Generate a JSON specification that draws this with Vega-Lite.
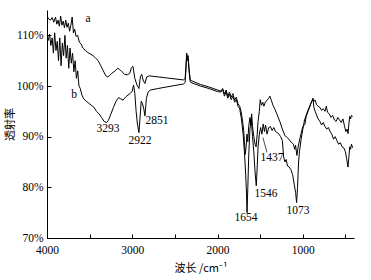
{
  "$schema": "https://vega.github.io/schema/vega-lite/v6.json",
  "autosize": "none",
  "width": 307,
  "height": 228,
  "padding": {"left": 47, "top": 10, "right": 17, "bottom": 42},
  "background": "white",
  "config": {
    "view": {"stroke": null},
    "axis": {
      "domainColor": "black", "tickColor": "black", "labelColor": "black", "titleColor": "black",
      "labelFont": "Liberation Serif", "labelFontSize": 11.5,
      "titleFont": "Noto Sans CJK SC", "titleFontSize": 11, "titleFontWeight": "normal",
      "grid": false, "tickSize": -4, "domainWidth": 1, "tickWidth": 1
    }
  },
  "datasets": {
    "spec": [
      {"s":"a","x":4000,"y":113.8},{"s":"a","x":3980,"y":113.2},{"s":"a","x":3960,"y":113.0},{"s":"a","x":3940,"y":113.5},{"s":"a","x":3920,"y":112.6},{"s":"a","x":3900,"y":113.6},{"s":"a","x":3885,"y":112.2},{"s":"a","x":3870,"y":113.0},{"s":"a","x":3855,"y":111.8},{"s":"a","x":3840,"y":113.8},{"s":"a","x":3825,"y":112.0},{"s":"a","x":3810,"y":112.8},{"s":"a","x":3795,"y":111.5},{"s":"a","x":3780,"y":113.0},{"s":"a","x":3765,"y":111.6},{"s":"a","x":3750,"y":112.4},{"s":"a","x":3735,"y":110.8},{"s":"a","x":3720,"y":112.0},{"s":"a","x":3705,"y":113.6},{"s":"a","x":3690,"y":110.5},{"s":"a","x":3675,"y":111.2},{"s":"a","x":3660,"y":109.8},{"s":"a","x":3640,"y":110.0},{"s":"a","x":3620,"y":108.6},{"s":"a","x":3600,"y":108.3},{"s":"a","x":3580,"y":107.5},{"s":"a","x":3550,"y":107.0},{"s":"a","x":3520,"y":106.6},{"s":"a","x":3490,"y":106.3},{"s":"a","x":3460,"y":106.0},{"s":"a","x":3430,"y":105.5},{"s":"a","x":3400,"y":105.0},{"s":"a","x":3370,"y":104.0},{"s":"a","x":3340,"y":103.0},{"s":"a","x":3310,"y":102.0},{"s":"a","x":3290,"y":101.8},{"s":"a","x":3270,"y":102.0},{"s":"a","x":3240,"y":102.5},{"s":"a","x":3200,"y":103.0},{"s":"a","x":3170,"y":103.5},{"s":"a","x":3150,"y":103.3},{"s":"a","x":3120,"y":102.8},{"s":"a","x":3090,"y":102.3},{"s":"a","x":3060,"y":102.2},{"s":"a","x":3030,"y":102.5},{"s":"a","x":3010,"y":103.6},{"s":"a","x":2992,"y":103.9},{"s":"a","x":2970,"y":101.5},{"s":"a","x":2945,"y":100.2},{"s":"a","x":2922,"y":99.5},{"s":"a","x":2905,"y":101.8},{"s":"a","x":2890,"y":102.3},{"s":"a","x":2870,"y":101.0},{"s":"a","x":2851,"y":100.5},{"s":"a","x":2830,"y":101.8},{"s":"a","x":2800,"y":102.0},{"s":"a","x":2700,"y":101.8},{"s":"a","x":2600,"y":101.6},{"s":"a","x":2500,"y":101.4},{"s":"a","x":2400,"y":101.2},{"s":"a","x":2380,"y":101.5},{"s":"a","x":2370,"y":104.0},{"s":"a","x":2362,"y":106.5},{"s":"a","x":2355,"y":105.5},{"s":"a","x":2345,"y":106.0},{"s":"a","x":2335,"y":103.5},{"s":"a","x":2320,"y":101.2},{"s":"a","x":2300,"y":101.0},{"s":"a","x":2200,"y":100.3},{"s":"a","x":2100,"y":99.8},{"s":"a","x":2000,"y":99.2},{"s":"a","x":1960,"y":99.0},{"s":"a","x":1940,"y":99.5},{"s":"a","x":1920,"y":98.4},{"s":"a","x":1900,"y":99.2},{"s":"a","x":1880,"y":98.0},{"s":"a","x":1860,"y":98.8},{"s":"a","x":1840,"y":97.8},{"s":"a","x":1820,"y":98.5},{"s":"a","x":1800,"y":97.2},{"s":"a","x":1780,"y":97.8},{"s":"a","x":1760,"y":96.5},{"s":"a","x":1740,"y":96.0},{"s":"a","x":1725,"y":95.0},{"s":"a","x":1710,"y":93.5},{"s":"a","x":1695,"y":91.5},{"s":"a","x":1685,"y":89.0},{"s":"a","x":1675,"y":86.5},{"s":"a","x":1665,"y":88.0},{"s":"a","x":1655,"y":90.5},{"s":"a","x":1645,"y":89.0},{"s":"a","x":1635,"y":92.0},{"s":"a","x":1620,"y":93.8},{"s":"a","x":1610,"y":92.5},{"s":"a","x":1600,"y":94.5},{"s":"a","x":1590,"y":92.0},{"s":"a","x":1575,"y":90.0},{"s":"a","x":1560,"y":88.5},{"s":"a","x":1548,"y":88.0},{"s":"a","x":1535,"y":90.5},{"s":"a","x":1525,"y":93.0},{"s":"a","x":1510,"y":95.0},{"s":"a","x":1500,"y":97.3},{"s":"a","x":1485,"y":96.2},{"s":"a","x":1470,"y":96.8},{"s":"a","x":1457,"y":96.0},{"s":"a","x":1440,"y":96.8},{"s":"a","x":1420,"y":97.2},{"s":"a","x":1400,"y":97.6},{"s":"a","x":1386,"y":98.0},{"s":"a","x":1370,"y":97.2},{"s":"a","x":1350,"y":96.2},{"s":"a","x":1330,"y":95.5},{"s":"a","x":1300,"y":94.3},{"s":"a","x":1270,"y":93.0},{"s":"a","x":1240,"y":91.5},{"s":"a","x":1210,"y":90.2},{"s":"a","x":1180,"y":89.8},{"s":"a","x":1150,"y":89.2},{"s":"a","x":1130,"y":88.8},{"s":"a","x":1110,"y":88.5},{"s":"a","x":1095,"y":87.5},{"s":"a","x":1085,"y":88.3},{"s":"a","x":1070,"y":86.3},{"s":"a","x":1055,"y":88.0},{"s":"a","x":1035,"y":89.6},{"s":"a","x":1000,"y":92.0},{"s":"a","x":976,"y":92.4},{"s":"a","x":960,"y":94.0},{"s":"a","x":941,"y":94.9},{"s":"a","x":920,"y":95.8},{"s":"a","x":900,"y":96.8},{"s":"a","x":882,"y":97.6},{"s":"a","x":870,"y":97.0},{"s":"a","x":855,"y":97.2},{"s":"a","x":840,"y":96.3},{"s":"a","x":820,"y":96.0},{"s":"a","x":800,"y":95.8},{"s":"a","x":780,"y":95.2},{"s":"a","x":760,"y":95.5},{"s":"a","x":740,"y":95.0},{"s":"a","x":725,"y":96.0},{"s":"a","x":710,"y":94.8},{"s":"a","x":690,"y":94.5},{"s":"a","x":670,"y":93.8},{"s":"a","x":650,"y":94.2},{"s":"a","x":630,"y":93.3},{"s":"a","x":610,"y":93.0},{"s":"a","x":590,"y":93.8},{"s":"a","x":570,"y":93.3},{"s":"a","x":550,"y":92.8},{"s":"a","x":530,"y":93.5},{"s":"a","x":510,"y":92.0},{"s":"a","x":495,"y":91.0},{"s":"a","x":480,"y":91.5},{"s":"a","x":470,"y":90.6},{"s":"a","x":460,"y":92.5},{"s":"a","x":450,"y":94.0},{"s":"a","x":440,"y":93.5},{"s":"a","x":430,"y":94.2},{"s":"a","x":415,"y":94.0},
      {"s":"b","x":4000,"y":109.8},{"s":"b","x":3985,"y":109.0},{"s":"b","x":3970,"y":110.2},{"s":"b","x":3955,"y":108.0},{"s":"b","x":3940,"y":109.5},{"s":"b","x":3925,"y":106.5},{"s":"b","x":3910,"y":110.5},{"s":"b","x":3895,"y":107.0},{"s":"b","x":3880,"y":108.8},{"s":"b","x":3865,"y":105.0},{"s":"b","x":3850,"y":109.5},{"s":"b","x":3835,"y":104.0},{"s":"b","x":3820,"y":108.5},{"s":"b","x":3805,"y":106.0},{"s":"b","x":3790,"y":110.0},{"s":"b","x":3775,"y":105.5},{"s":"b","x":3760,"y":108.0},{"s":"b","x":3745,"y":103.5},{"s":"b","x":3730,"y":107.5},{"s":"b","x":3715,"y":104.5},{"s":"b","x":3700,"y":106.5},{"s":"b","x":3685,"y":102.8},{"s":"b","x":3670,"y":105.0},{"s":"b","x":3655,"y":101.5},{"s":"b","x":3640,"y":103.0},{"s":"b","x":3625,"y":100.0},{"s":"b","x":3610,"y":99.5},{"s":"b","x":3590,"y":98.2},{"s":"b","x":3570,"y":97.5},{"s":"b","x":3540,"y":97.0},{"s":"b","x":3510,"y":96.6},{"s":"b","x":3480,"y":96.2},{"s":"b","x":3450,"y":95.8},{"s":"b","x":3420,"y":95.0},{"s":"b","x":3390,"y":94.5},{"s":"b","x":3360,"y":93.8},{"s":"b","x":3330,"y":93.0},{"s":"b","x":3300,"y":92.8},{"s":"b","x":3280,"y":93.2},{"s":"b","x":3250,"y":94.5},{"s":"b","x":3220,"y":95.8},{"s":"b","x":3190,"y":97.0},{"s":"b","x":3160,"y":97.7},{"s":"b","x":3140,"y":97.5},{"s":"b","x":3110,"y":97.2},{"s":"b","x":3080,"y":97.8},{"s":"b","x":3050,"y":98.2},{"s":"b","x":3020,"y":98.6},{"s":"b","x":3000,"y":99.0},{"s":"b","x":2985,"y":100.2},{"s":"b","x":2970,"y":98.5},{"s":"b","x":2955,"y":95.0},{"s":"b","x":2940,"y":92.5},{"s":"b","x":2922,"y":90.8},{"s":"b","x":2910,"y":93.5},{"s":"b","x":2895,"y":97.0},{"s":"b","x":2880,"y":96.5},{"s":"b","x":2865,"y":95.5},{"s":"b","x":2851,"y":94.1},{"s":"b","x":2835,"y":97.5},{"s":"b","x":2815,"y":98.8},{"s":"b","x":2790,"y":99.2},{"s":"b","x":2700,"y":99.5},{"s":"b","x":2600,"y":99.8},{"s":"b","x":2500,"y":100.1},{"s":"b","x":2400,"y":100.4},{"s":"b","x":2380,"y":100.7},{"s":"b","x":2370,"y":103.5},{"s":"b","x":2362,"y":106.2},{"s":"b","x":2355,"y":105.0},{"s":"b","x":2345,"y":105.5},{"s":"b","x":2335,"y":103.0},{"s":"b","x":2320,"y":100.8},{"s":"b","x":2300,"y":100.6},{"s":"b","x":2200,"y":100.0},{"s":"b","x":2100,"y":99.5},{"s":"b","x":2000,"y":98.9},{"s":"b","x":1960,"y":98.8},{"s":"b","x":1940,"y":99.3},{"s":"b","x":1920,"y":98.0},{"s":"b","x":1900,"y":98.8},{"s":"b","x":1880,"y":97.6},{"s":"b","x":1860,"y":98.4},{"s":"b","x":1840,"y":97.3},{"s":"b","x":1820,"y":98.0},{"s":"b","x":1800,"y":96.8},{"s":"b","x":1780,"y":97.3},{"s":"b","x":1760,"y":96.0},{"s":"b","x":1740,"y":95.5},{"s":"b","x":1720,"y":93.5},{"s":"b","x":1700,"y":90.5},{"s":"b","x":1685,"y":87.0},{"s":"b","x":1670,"y":82.5},{"s":"b","x":1660,"y":78.5},{"s":"b","x":1654,"y":75.0},{"s":"b","x":1645,"y":80.0},{"s":"b","x":1635,"y":86.0},{"s":"b","x":1620,"y":91.5},{"s":"b","x":1605,"y":93.5},{"s":"b","x":1590,"y":90.0},{"s":"b","x":1575,"y":87.0},{"s":"b","x":1560,"y":83.0},{"s":"b","x":1546,"y":80.3},{"s":"b","x":1535,"y":84.0},{"s":"b","x":1525,"y":88.0},{"s":"b","x":1510,"y":90.5},{"s":"b","x":1495,"y":91.8},{"s":"b","x":1480,"y":90.5},{"s":"b","x":1465,"y":92.5},{"s":"b","x":1450,"y":91.0},{"s":"b","x":1437,"y":92.3},{"s":"b","x":1420,"y":90.5},{"s":"b","x":1400,"y":91.8},{"s":"b","x":1380,"y":92.0},{"s":"b","x":1360,"y":91.2},{"s":"b","x":1340,"y":91.8},{"s":"b","x":1320,"y":91.0},{"s":"b","x":1300,"y":90.8},{"s":"b","x":1280,"y":90.5},{"s":"b","x":1260,"y":90.0},{"s":"b","x":1240,"y":89.2},{"s":"b","x":1225,"y":86.0},{"s":"b","x":1210,"y":85.0},{"s":"b","x":1195,"y":85.5},{"s":"b","x":1180,"y":84.2},{"s":"b","x":1160,"y":84.0},{"s":"b","x":1140,"y":83.5},{"s":"b","x":1120,"y":82.5},{"s":"b","x":1100,"y":80.5},{"s":"b","x":1085,"y":79.0},{"s":"b","x":1073,"y":77.0},{"s":"b","x":1062,"y":80.0},{"s":"b","x":1050,"y":85.0},{"s":"b","x":1040,"y":87.0},{"s":"b","x":1020,"y":89.5},{"s":"b","x":1000,"y":91.5},{"s":"b","x":980,"y":93.3},{"s":"b","x":960,"y":94.3},{"s":"b","x":940,"y":95.2},{"s":"b","x":920,"y":96.0},{"s":"b","x":900,"y":96.8},{"s":"b","x":880,"y":97.3},{"s":"b","x":870,"y":95.8},{"s":"b","x":855,"y":95.0},{"s":"b","x":840,"y":94.3},{"s":"b","x":820,"y":93.5},{"s":"b","x":800,"y":93.0},{"s":"b","x":780,"y":92.3},{"s":"b","x":760,"y":92.8},{"s":"b","x":740,"y":92.0},{"s":"b","x":720,"y":91.5},{"s":"b","x":700,"y":91.8},{"s":"b","x":680,"y":91.0},{"s":"b","x":660,"y":90.5},{"s":"b","x":640,"y":89.5},{"s":"b","x":620,"y":90.0},{"s":"b","x":600,"y":89.2},{"s":"b","x":580,"y":88.5},{"s":"b","x":560,"y":88.8},{"s":"b","x":540,"y":88.0},{"s":"b","x":520,"y":87.8},{"s":"b","x":500,"y":87.0},{"s":"b","x":485,"y":85.5},{"s":"b","x":470,"y":84.0},{"s":"b","x":460,"y":86.0},{"s":"b","x":450,"y":88.0},{"s":"b","x":440,"y":87.5},{"s":"b","x":430,"y":88.5},{"s":"b","x":415,"y":87.8}
    ],
    "labels": [
      {"x":3520,"y":113.3,"t":"a"},
      {"x":3683,"y":98.2,"t":"b"},
      {"x":3285,"y":91.6,"t":"3293"},
      {"x":2910,"y":89.2,"t":"2922"},
      {"x":2710,"y":93.1,"t":"2851"},
      {"x":1667,"y":73.9,"t":"1654"},
      {"x":1433,"y":78.6,"t":"1546"},
      {"x":1362,"y":85.7,"t":"1437"},
      {"x":1057,"y":75.3,"t":"1073"}
    ],
    "leader": [
      {"x":1421,"y":86.9,"x2":1468,"y2":89.8}
    ]
  },
  "layer": [
    {
      "data": {"name": "spec"},
      "mark": {"type": "line", "color": "black", "strokeWidth": 1, "clip": true},
      "encoding": {
        "x": {
          "field": "x", "type": "quantitative",
          "scale": {"domain": [400, 4000], "reverse": true, "nice": false, "zero": false},
          "axis": {
            "values": [4000, 3500, 3000, 2500, 2000, 1500, 1000, 500],
            "labelExpr": "datum.value % 1000 == 0 ? datum.value : ''",
            "labelPadding": 10, "labelFlush": false,
            "title": "波长 /cm⁻¹", "titlePadding": 7
          }
        },
        "y": {
          "field": "y", "type": "quantitative",
          "scale": {"domain": [70, 115], "nice": false, "zero": false},
          "axis": {
            "values": [70, 75, 80, 85, 90, 95, 100, 105, 110],
            "labelExpr": "datum.value % 10 == 0 ? datum.value + '%' : ''",
            "labelPadding": 8, "title": "透射率", "titlePadding": 1
          }
        },
        "detail": {"field": "s"}
      }
    },
    {
      "data": {"name": "leader"},
      "mark": {"type": "rule", "color": "black", "strokeWidth": 0.7},
      "encoding": {
        "x": {"field": "x", "type": "quantitative"},
        "y": {"field": "y", "type": "quantitative"},
        "x2": {"field": "x2"},
        "y2": {"field": "y2"}
      }
    },
    {
      "data": {"name": "labels"},
      "mark": {"type": "text", "font": "Liberation Serif", "fontSize": 11.5, "color": "black"},
      "encoding": {
        "x": {"field": "x", "type": "quantitative"},
        "y": {"field": "y", "type": "quantitative"},
        "text": {"field": "t"}
      }
    }
  ]
}
